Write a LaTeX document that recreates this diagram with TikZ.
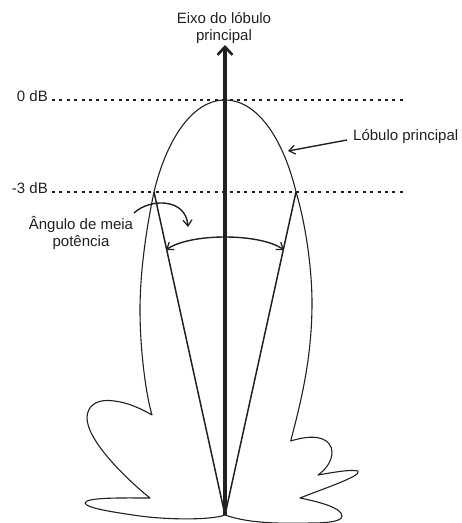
\documentclass[tikz,border=0pt]{standalone}
\usepackage{fontspec}
\setmainfont{Liberation Sans}
\usetikzlibrary{arrows.meta}
\definecolor{ink}{gray}{0.13}
\tikzset{
  lobe/.style={draw=ink,line width=1.1pt,line join=round},
  spoke/.style={draw=ink,line width=1.5pt},
  axisline/.style={draw=ink,line width=3.2pt,-{Straight Barb[length=8pt,width=15pt,line width=2.6pt]}},
  level/.style={draw=ink,line width=1.4pt,dash pattern=on 3pt off 4.4pt},
  pointer/.style={draw=ink,line width=1.4pt,-{Straight Barb[length=6pt,width=9pt,line width=1.3pt]}},
  twoway/.style={draw=ink,line width=1.4pt,{Straight Barb[length=6pt,width=9pt,line width=1.3pt]}-{Straight Barb[length=6pt,width=9pt,line width=1.3pt]}},
  label/.style={text=ink,font=\fontsize{15}{17}\selectfont,inner sep=0pt,align=center}
}
\begin{document}
\begin{tikzpicture}[x=1pt,y=-1pt]
\useasboundingbox (0,0) rectangle (462,523);
\clip (0,0) rectangle (462,523);
\coordinate (origin) at (225,515);
\coordinate (top) at (225,100);
\coordinate (hl) at (154,192);
\coordinate (hr) at (296,192);
% lobes
\draw[lobe] (origin)
  .. controls (212,520) and (170,520) .. (140,516)
  .. controls (112,512) and (86,508) .. (85,503)
  .. controls (86,497) and (125,498) .. (150,498)
  .. controls (125,478) and (87,440) .. (87,418)
  .. controls (87,405) and (98,400) .. (108,400.5)
  .. controls (125,401) and (140,408) .. (152,415)
  .. controls (146,395) and (140,350) .. (140,310)
  .. controls (140,270) and (147,225) .. (hl)
  .. controls (165,145) and (190,100) .. (top)
  .. controls (260,100) and (285,145) .. (hr)
  .. controls (306,225) and (312,270) .. (312,303)
  .. controls (312,360) and (300,405) .. (290.7,441)
  .. controls (300,438) and (312,436) .. (319,438)
  .. controls (328,440) and (332,446) .. (332,452)
  .. controls (332,462) and (325,470) .. (318,475)
  .. controls (330,473) and (350,469) .. (358,471)
  .. controls (362,476) and (325,488) .. (300,498)
  .. controls (320,502) and (342,508) .. (342,516)
  .. controls (342,522) and (325,523) .. (310,523)
  .. controls (270,524) and (245,522) .. (origin);
% half power lines
\draw[spoke] (hl) -- (origin);
\draw[spoke] (hr) -- (origin);
% levels
\node[label,anchor=east] (zero) at (48,96) {0 dB};
\node[label,anchor=east] (minus) at (48,188) {-3 dB};
\coordinate (zeroend) at (405,100);
\coordinate (minusend) at (405,192);
\coordinate (zerostart) at (52,100);
\coordinate (minusstart) at (52,192);
\draw[level] (zerostart) -- (zeroend);
\draw[level] (minusstart) -- (minusend);
% axis
\coordinate (axistip) at (225,45);
\draw[axisline] (origin) -- (axistip);
\node[label] (axislabel) at (224,28.5) {Eixo do lóbulo\\principal};
% main lobe label
\node[label,anchor=west] (mainlabel) at (353,137) {Lóbulo principal};
\coordinate (mainend) at (288,151);
\draw[pointer] (mainlabel.west) ++(-6,3) -- (mainend);
% half power angle
\node[label] (anglelabel) at (81,232.5) {Ângulo de meia\\potência};
\coordinate (anglestart) at (134,213);
\coordinate (angleend) at (188,227);
\draw[pointer] (anglestart) .. controls (150,198) and (186,198) .. (angleend);
\coordinate (arcl) at (166,250);
\coordinate (arcr) at (284,250);
\draw[twoway] (arcl) .. controls (190,233) and (260,233) .. (arcr);
\end{tikzpicture}
\end{document}
